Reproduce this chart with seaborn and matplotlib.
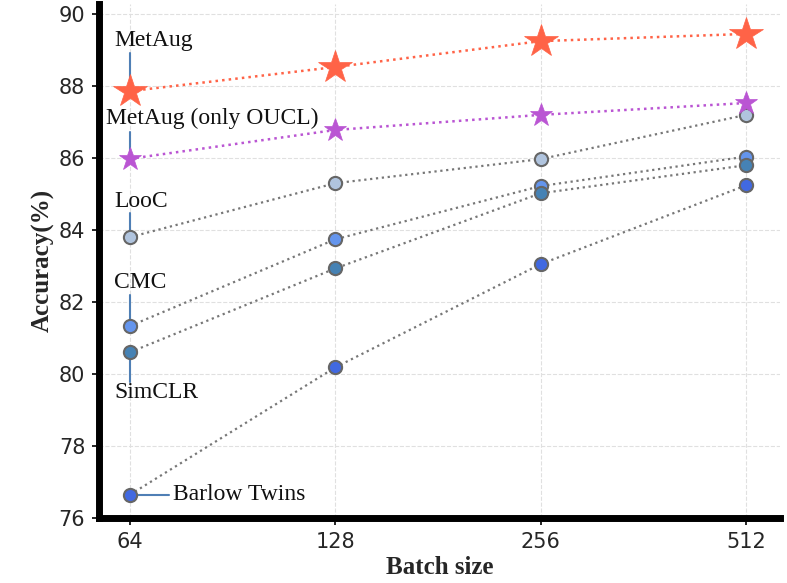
import matplotlib
matplotlib.use("Agg")
import matplotlib.pyplot as plt
import seaborn as sns
import numpy as np
import pandas as pd

batch_sizes = ["64", "128", "256", "512"]
metaug = [87.86, 88.53, 89.25, 89.45]
metaug_oucl = [85.98, 86.78, 87.20, 87.53]
looc = [83.80, 85.30, 85.97, 87.20]
cmc = [81.33, 83.74, 85.22, 86.04]
simclr = [80.60, 82.93, 85.02, 85.80]
barlow = [76.64, 80.18, 83.05, 85.24]

series_names = ["MetAug", "MetAug (only OUCL)", "LooC", "CMC", "SimCLR", "Barlow Twins"]

sns.set_theme(style="white")
plt.rcParams['font.family'] = ['DejaVu Sans']

fig = plt.figure(figsize=(7.87, 5.83), dpi=100)
ax = fig.add_axes([0.126, 0.112, 0.865, 0.881])

xpos = np.arange(len(batch_sizes))

circle_series = [
    (looc, "#B0C4DE"),
    (cmc, "#6495ED"),
    (simclr, "#4682B4"),
    (barlow, "#4169E1"),
]
for vals, col in circle_series:
    sns.lineplot(x=xpos, y=vals, ax=ax, color="#777777", linestyle=":", linewidth=1.6,
                 marker="o", markersize=9.5, markerfacecolor=col,
                 markeredgecolor="#666666", markeredgewidth=1.5, zorder=3)

sns.lineplot(x=xpos, y=metaug_oucl, ax=ax, color="#BA55D3", linestyle=":", linewidth=1.8,
             marker="*", markersize=17, markerfacecolor="#BA55D3",
             markeredgecolor="#BA55D3", markeredgewidth=0.5, zorder=4)
sns.lineplot(x=xpos, y=metaug, ax=ax, color="#FF6347", linestyle=":", linewidth=1.8,
             marker="*", markersize=25, markerfacecolor="#FF6347",
             markeredgecolor="#FF6347", markeredgewidth=0.5, zorder=4)

ax.set_xlim(-0.15, 3.165)
ax.set_ylim(76, 90.28)
ax.set_xticks(xpos)
ax.set_xticklabels(batch_sizes)
ax.set_yticks(np.arange(76, 91, 2))
ax.tick_params(axis="both", labelsize=15, length=5, width=1.2, color="black",
               direction="out", left=True, bottom=True, pad=5)

ax.grid(True, color="#e0e0e0", linestyle="--", linewidth=0.8)
for s in ["top", "right"]:
    ax.spines[s].set_visible(False)
for s in ["left", "bottom"]:
    ax.spines[s].set_visible(True)
    ax.spines[s].set_color("black")
    ax.spines[s].set_linewidth(5)

ax.set_xlabel("Batch size", fontsize=18, fontweight="bold", family="Liberation Serif", labelpad=3)
ax.set_ylabel("Accuracy(%)", fontsize=18, fontweight="bold", family="Liberation Serif", labelpad=3)

tfont = dict(fontsize=17, family="Liberation Serif", color="#111111")
lcol = "#4F7FB5"
x0 = xpos[0]
tx = x0 - 0.078

# MetAug
ax.text(tx, metaug[0] + 1.42, series_names[0], ha="left", va="center", **tfont)
ax.plot([x0, x0], [metaug[0] + 0.2, metaug[0] + 1.06], color=lcol, lw=1.5, zorder=2)
# MetAug (only OUCL)
ax.text(x0 - 0.117, metaug_oucl[0] + 1.12, series_names[1], ha="left", va="center", **tfont)
ax.plot([x0, x0], [metaug_oucl[0], metaug_oucl[0] + 0.75], color=lcol, lw=1.5, zorder=2)
# LooC
ax.text(tx, looc[0] + 0.98, series_names[2], ha="left", va="center", **tfont)
ax.plot([x0, x0], [looc[0], looc[0] + 0.67], color=lcol, lw=1.5, zorder=2)
# CMC
ax.text(tx, cmc[0] + 1.2, series_names[3], ha="left", va="center", **tfont)
ax.plot([x0, x0], [cmc[0], cmc[0] + 0.86], color=lcol, lw=1.5, zorder=2)
# SimCLR
ax.text(tx, simclr[0] - 1.13, series_names[4], ha="left", va="center", **tfont)
ax.plot([x0, x0], [simclr[0], simclr[0] - 0.84], color=lcol, lw=1.5, zorder=2)
# Barlow Twins
ax.text(x0 + 0.21, barlow[0], series_names[5], ha="left", va="center", **tfont)
ax.plot([x0, x0 + 0.19], [barlow[0], barlow[0]], color=lcol, lw=1.5, zorder=2)

fig.savefig("out.png", dpi=100)
